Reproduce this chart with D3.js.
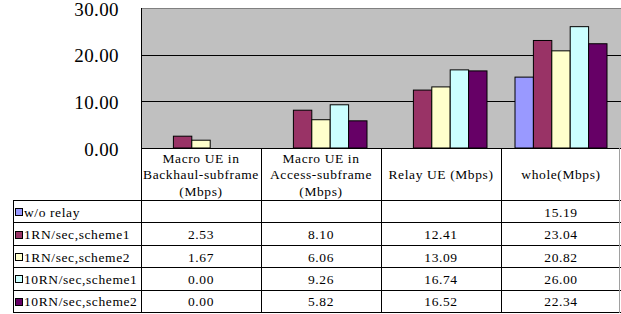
<!DOCTYPE html>
<html>
<head>
<meta charset="utf-8">
<script src="https://cdn.jsdelivr.net/npm/d3@7"></script>
<style>
html,body{margin:0;padding:0;background:#fff;}
svg{display:block;}
</style>
</head>
<body>
<svg id="chart" width="621" height="314"></svg>
<script>
const categories = ["Macro UE in Backhaul-subframe (Mbps)", "Macro UE in Access-subframe (Mbps)", "Relay UE (Mbps)", "whole(Mbps)"];
const categoryLines = [["Macro UE in", "Backhaul-subframe", "(Mbps)"], ["Macro UE in", "Access-subframe", "(Mbps)"], ["Relay UE (Mbps)"], ["whole(Mbps)"]];
const seriesNames = ["w/o relay", "1RN/sec,scheme1", "1RN/sec,scheme2", "10RN/sec,scheme1", "10RN/sec,scheme2"];
const seriesColors = ["#9999FF", "#993366", "#FFFFCC", "#CCFFFF", "#660066"];
const woRelay = [null, null, null, 15.19];
const rn1Scheme1 = [2.53, 8.10, 12.41, 23.04];
const rn1Scheme2 = [1.67, 6.06, 13.09, 20.82];
const rn10Scheme1 = [0.00, 9.26, 16.74, 26.00];
const rn10Scheme2 = [0.00, 5.82, 16.52, 22.34];
const seriesValues = [woRelay, rn1Scheme1, rn1Scheme2, rn10Scheme1, rn10Scheme2];
const yTicks = [0, 10, 20, 30];

const FONT = "'Liberation Serif'";
const svg = d3.select("#chart");
const plotLeft = 141, plotRight = 621, plotTop = 8, plotBottom = 148;
const tableLeft = 13, headerBottom = 201, rowH = 22.4;

const x0 = d3.scaleBand().domain(categories).range([plotLeft, plotRight]).padding(0);
const x1 = d3.scaleBand().domain(seriesNames).range([14, 106]).padding(0);
const y = d3.scaleLinear().domain([0, 30]).range([plotBottom, plotTop]);
const fmt = d3.format(".2f");

function txt(x, yy, s, size, anchor, ls) {
  return svg.append("text").attr("x", x).attr("y", yy)
    .attr("font-family", FONT).attr("font-size", size)
    .attr("text-anchor", anchor).attr("letter-spacing", ls || 0)
    .attr("fill", "#000").text(s);
}

svg.append("rect").attr("x", plotLeft).attr("y", plotTop)
  .attr("width", plotRight - plotLeft).attr("height", plotBottom - plotTop)
  .attr("fill", "#C0C0C0");
svg.append("line").attr("x1", plotLeft).attr("x2", plotRight)
  .attr("y1", y(30) + 0.5).attr("y2", y(30) + 0.5).attr("stroke", "#808080");
svg.selectAll("line.grid").data(yTicks.filter(t => t > 0 && t < 30)).enter()
  .append("line").attr("class", "grid")
  .attr("x1", plotLeft).attr("x2", plotRight)
  .attr("y1", d => Math.round(y(d)) + 0.5).attr("y2", d => Math.round(y(d)) + 0.5)
  .attr("stroke", "#000");

const bars = [];
categories.forEach((c, ci) => {
  seriesNames.forEach((s, si) => {
    const v = seriesValues[si][ci];
    if (v !== null) bars.push({c, s, v, color: seriesColors[si]});
  });
});
svg.selectAll("rect.bar").data(bars).enter().append("rect").attr("class", "bar")
  .attr("x", d => x0(d.c) + x1(d.s))
  .attr("y", d => y(d.v))
  .attr("width", x1.bandwidth())
  .attr("height", d => y(0) - y(d.v))
  .attr("fill", d => d.color)
  .attr("stroke", "#000").attr("stroke-width", 1);

svg.append("line").attr("x1", plotLeft + 0.5).attr("x2", plotLeft + 0.5)
  .attr("y1", plotTop).attr("y2", plotBottom).attr("stroke", "#000");

yTicks.forEach(t => txt(119, y(t) + 7.5, fmt(t), 19, "end", 0.4));

const tableBottom = headerBottom + rowH * seriesNames.length;
const g = svg.append("g").attr("shape-rendering", "crispEdges");
g.append("line").attr("x1", plotLeft).attr("x2", plotRight).attr("y1", plotBottom + 0.5).attr("y2", plotBottom + 0.5).attr("stroke", "#000");
d3.range(seriesNames.length + 1).forEach(i => {
  const yy = Math.round(headerBottom + i * rowH) - 0.5;
  g.append("line").attr("x1", tableLeft).attr("x2", plotRight).attr("y1", yy).attr("y2", yy).attr("stroke", "#000");
});
categories.forEach(c => {
  const xx = x0(c) + 0.5;
  g.append("line").attr("x1", xx).attr("x2", xx).attr("y1", plotBottom).attr("y2", tableBottom).attr("stroke", "#000");
});
g.append("line").attr("x1", plotRight - 1.5).attr("x2", plotRight - 1.5).attr("y1", plotBottom).attr("y2", tableBottom).attr("stroke", "#A0A0A0");
g.append("line").attr("x1", tableLeft + 0.5).attr("x2", tableLeft + 0.5).attr("y1", headerBottom).attr("y2", tableBottom).attr("stroke", "#000");

categories.forEach((c, ci) => {
  const lines = categoryLines[ci];
  const cx = x0(c) + x0.bandwidth() / 2;
  const lh = 16.5;
  const mid = (plotBottom + headerBottom) / 2;
  const start = mid - (lines.length - 1) * lh / 2 + 4.5;
  lines.forEach((ln, li) => txt(cx, start + li * lh, ln, 13.5, "middle", 0.6));
});

seriesNames.forEach((s, si) => {
  const rowTop = headerBottom + si * rowH;
  const cy = rowTop + rowH / 2;
  svg.append("rect").attr("x", 15.5).attr("y", Math.round(cy - 4) + 0.5).attr("width", 7).attr("height", 7)
    .attr("fill", seriesColors[si]).attr("stroke", "#000");
  txt(24, cy + 4.5, s, 13.5, "start", 0.6);
  categories.forEach((c, ci) => {
    const v = seriesValues[si][ci];
    if (v === null) return;
    txt(x0(c) + x0.bandwidth() / 2, cy + 4.5, fmt(v), 13.5, "middle", 0.6);
  });
});
</script>
</body>
</html>
